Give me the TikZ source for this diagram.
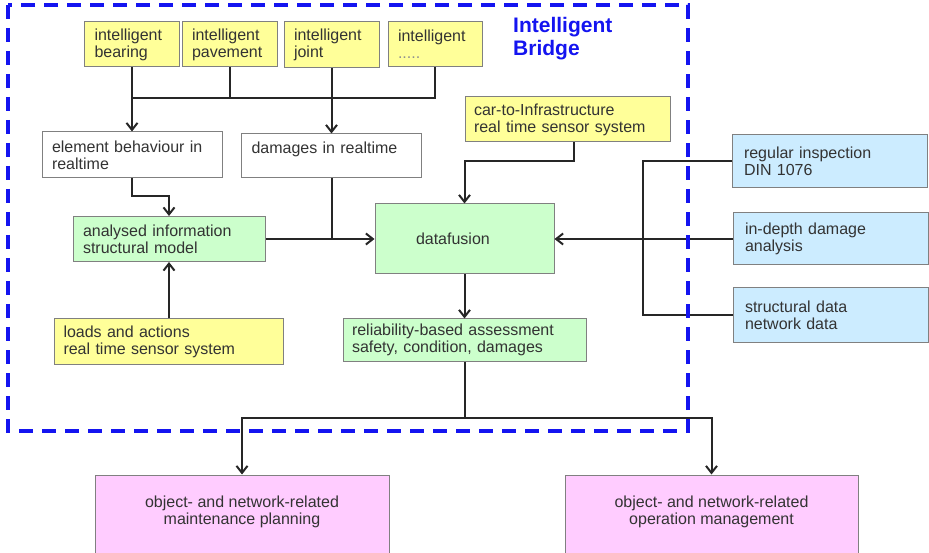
\documentclass[tikz,border=0pt]{standalone}
\usepackage{fontspec}
\setmainfont{Liberation Sans}
\usetikzlibrary{arrows.meta}
\definecolor{sensoryellow}{HTML}{FFFF99}
\definecolor{modelgreen}{HTML}{CCFFCC}
\definecolor{inspectblue}{HTML}{CCECFF}
\definecolor{planpink}{HTML}{FFCCFF}
\definecolor{boxframe}{HTML}{808080}
\definecolor{boxtext}{HTML}{333333}
\definecolor{bridgeblue}{HTML}{1414F0}
\newcommand{\boxfont}{\fontsize{16}{17}\selectfont}
\tikzset{
  box/.style={draw=boxframe, line width=1pt, inner xsep=0pt, inner ysep=2pt,
              align=left, font=\boxfont, text=boxtext},
  yellowbox/.style={box, fill=sensoryellow},
  greenbox/.style={box, fill=modelgreen},
  bluebox/.style={box, fill=inspectblue},
  whitebox/.style={box, fill=white},
  pinkbox/.style={box, fill=planpink},
  link/.style={line width=2pt, black!85},
  linkarrow/.style={link, -{Straight Barb[length=7pt,width=11pt]}},
  bridgeframe/.style={draw=bridgeblue, line width=3.2pt, dash pattern=on 14pt off 9pt},
}

\begin{document}
\begin{tikzpicture}[x=1pt, y=-1pt]
    \useasboundingbox (0,0) rectangle (929,553);
    \clip (0,0) rectangle (929,553);
    \node[yellowbox, minimum width=95pt, minimum height=45pt, text width=75pt] (bearing) at (132,44.5) {intelligent\\bearing};
    \node[yellowbox, minimum width=95pt, minimum height=45pt, text width=75pt] (pavement) at (229.5,44.5) {intelligent\\pavement};
    \node[yellowbox, minimum width=95pt, minimum height=46pt, text width=75pt] (joint) at (331.5,45) {intelligent\\joint};
    \node[yellowbox, minimum width=94pt, minimum height=45pt, text width=74pt] (more) at (435,44.5) {intelligent\\{\color{boxtext!55}.....}};
    \node[font=\fontsize{21}{23}\selectfont\bfseries, text=bridgeblue, align=left, anchor=west, inner sep=0pt] (title) at (513,38.5) {Intelligent\\Bridge};
    \node[whitebox, minimum width=180pt, minimum height=46pt, text width=160pt] (elem) at (132,155) {element behaviour in\\realtime};
    \node[whitebox, minimum width=180pt, minimum height=44pt, text width=160pt] (damages) at (331.5,156) {damages in realtime\\\mbox{}};
    \node[yellowbox, minimum width=205pt, minimum height=45pt, text width=187pt] (car) at (567.5,119.5) {car-to-Infrastructure\\real time sensor system};
    \node[greenbox, minimum width=192pt, minimum height=45pt, text width=172pt] (analysed) at (169,239) {analysed information\\structural model};
    \node[yellowbox, minimum width=229pt, minimum height=45pt, text width=211pt] (loads) at (169,341.5) {loads and actions\\real time sensor system};
    \node[greenbox, minimum width=179pt, minimum height=70pt, text width=97pt] (fusion) at (464.5,239) {datafusion};
    \node[greenbox, minimum width=243pt, minimum height=42pt, text width=225pt] (reliab) at (464.5,340) {reliability-based assessment\\safety, condition, damages};
    \node[bluebox, minimum width=195pt, minimum height=53pt, text width=171pt] (inspect) at (829.5,161.5) {regular inspection\\DIN 1076};
    \node[bluebox, minimum width=195pt, minimum height=52pt, text width=171pt] (indepth) at (830.5,239) {in-depth damage\\analysis};
    \node[bluebox, minimum width=195pt, minimum height=54pt, text width=171pt] (structural) at (830.5,315) {structural data\\network data};
    \node[pinkbox, minimum width=294pt, minimum height=90pt,
          label={[font=\boxfont, text=boxtext, align=center, yshift=8.5pt]center:object- and network-related\\maintenance planning}] (planning) at (242,520) {};
    \node[pinkbox, minimum width=293pt, minimum height=90pt,
          label={[font=\boxfont, text=boxtext, align=center, yshift=8.5pt]center:object- and network-related\\operation management}] (operation) at (711.5,520) {};

    \coordinate (bus) at (0,98);
    \coordinate (carbend) at (0,161);
    \coordinate (elembend) at (0,196);
    \coordinate (split) at (0,418);
    \coordinate (inspbus) at (643,0);

    \draw[link] (bearing.south) -- (bearing.south |- bus) -| (more.south);
    \draw[link] (pavement.south) -- (pavement.south |- bus);
    \draw[linkarrow] (bearing.south |- bus) -- (elem.north);
    \draw[linkarrow] (joint.south) -- (damages.north);
    \draw[linkarrow] (elem.south) -- (elem.south |- elembend) -| (analysed.north);
    \draw[linkarrow] (loads.north) -- (analysed.south);
    \draw[linkarrow] (analysed.east) -- (fusion.west);
    \draw[link] (damages.south) -- (damages.south |- analysed.east);
    \draw[linkarrow] ([xshift=6.5pt]car.south) -- ([xshift=6.5pt]car.south |- carbend) -| (fusion.north);
    \draw[linkarrow] (fusion.south) -- (reliab.north);
    \draw[link] (reliab.south) -- (reliab.south |- split);
    \draw[linkarrow] (reliab.south |- split) -| (planning.north);
    \draw[linkarrow] (reliab.south |- split) -| (operation.north);
    \draw[linkarrow] (indepth.west) -- (fusion.east);
    \draw[link] (inspect.west) -| (inspbus |- structural.west) -- (structural.west);

    % intelligent bridge boundary
    \draw[bridgeframe] (8,5) rectangle (688,431);
  \end{tikzpicture}
\end{document}
